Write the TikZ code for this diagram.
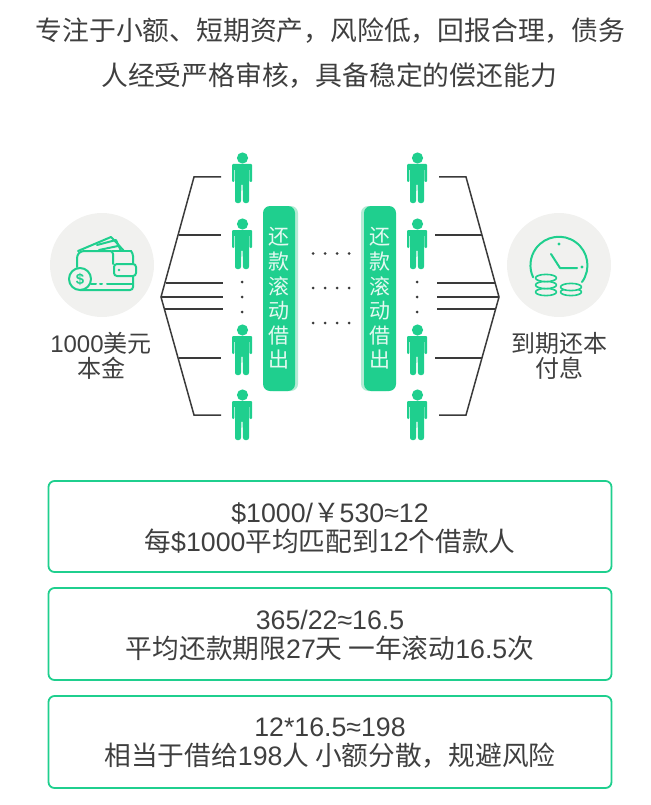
\documentclass[tikz,border=0pt]{standalone}
\usepackage{fontspec}
\setmainfont{Liberation Sans}
\newfontfamily\cjk{Noto Sans CJK SC}
\newcommand{\Z}[1]{{\cjk #1}}
\definecolor{brand}{HTML}{1FCF8E}
\definecolor{brandpale}{HTML}{B5EBD5}
\definecolor{disc}{HTML}{F1F1EF}
\definecolor{ink}{HTML}{3F3F3F}
\definecolor{wire}{HTML}{3A3A3A}
\tikzset{
  wirel/.style={draw=wire,line width=1.5pt},
  icon/.style={draw=brand,line width=2pt,line cap=round,line join=round},
  pill/.style={fill=brand,rounded corners=7pt,minimum width=32pt,minimum height=185pt,inner sep=0pt,outer sep=0pt,
     text=white!88!brand,align=center,font=\cjk\fontsize{21}{24.6}\selectfont},
  pillshade/.style={fill=brandpale,rounded corners=7pt,minimum width=32pt,minimum height=185pt,inner sep=0pt},
  infobox/.style={draw=brand,line width=1.8pt,rounded corners=6pt,minimum width=563pt,inner sep=0pt,outer sep=0pt},
  boxtext/.style={text=ink,align=center,inner sep=0pt,font=\fontsize{26.7}{29}\selectfont},
  headline/.style={text=ink,inner sep=0pt,font=\cjk\fontsize{26.8}{30}\selectfont},
  caption/.style={text=ink,inner sep=0pt,font=\fontsize{24}{25}\selectfont},
  dot/.style={circle,fill=wire,minimum size=3pt,inner sep=0pt},
  disc/.style={circle,fill=disc,minimum size=104pt,inner sep=0pt},
  person/.pic={
    \fill[brand] (0.5,-6) circle (5.6);
    \fill[brand,rounded corners=1pt] (-10,0) -- (10,0) -- (10,18) -- (7.6,18) -- (7.6,5) -- (7,5) -- (7,37.5)
       -- (6,39) -- (2,39) -- (1,37.5) -- (0.6,20) -- (-0.6,20) -- (-1,37.5) -- (-2,39) -- (-6,39) -- (-7,37.5)
       -- (-7,5) -- (-7.6,5) -- (-7.6,18) -- (-10,18) -- cycle;
  },
}
\begin{document}
\begin{tikzpicture}[x=1pt,y=-1pt]
\useasboundingbox (0,0) rectangle (650,805);
% headline
\node[headline] (h1) at (330.5,31) {专注于小额、短期资产，风险低，回报合理，债务};
\node[headline] (h2) at (329,76) {人经受严格审核，具备稳定的偿还能力};
% discs
\node[disc] (dl) at (102,265) {};
\node[disc] (dr) at (559,265) {};
% wallet
\draw[icon] (78,251) -- (111,237) -- (114,240) -- (124,251);
\draw[icon] (97,245) -- (116,240) -- (121,251);
\draw[icon] (99,250) -- (118,246);
\draw[icon,rounded corners=3pt] (113,264) -- (113,251) -- (81,251) -- (77,255) -- (77,267);
\draw[icon,rounded corners=3pt] (131,251) -- (133,253) -- (133,264);
\draw[icon,rounded corners=3pt] (133,276) -- (133,290) -- (80,290);
\draw[icon,rounded corners=3pt] (136,264) rectangle (114,276);
\draw[icon] (112,251) -- (131,251);
\fill[brand] (119,270) circle (1.4);
\draw[icon] (107,284) -- (133,284);
\draw[icon] (91,284) -- (96,284);
\draw[icon] (100,284) -- (102,284);
\draw[icon,fill=disc] (80,279) circle (11);
\node[text=brand,inner sep=0pt,font=\bfseries\fontsize{15}{15}\selectfont] (dollar) at (80,279) {\$};
% clock
\draw[icon] (582,282) arc[start angle=36,end angle=-205,radius=28.5];
\draw[icon] (551,254) -- (560,268) -- (577,268);
\fill[brand] (582,267) circle (1.6);
\fill[brand] (559,244) circle (1.6);
\foreach \yy in {292,285,278}{
  \draw[icon,fill=disc,line width=1.6pt] (546,\yy) ellipse (10.5 and 3.6);
}
\foreach \yy in {292,287}{
  \draw[icon,fill=disc,line width=1.6pt] (571,\yy) ellipse (10.5 and 3.6);
}
% captions
\node[caption] (cl1) at (101,343) {1000\Z{美元}};
\node[caption] (cl2) at (101,368) {\Z{本金}};
\node[caption] (cr1) at (559,343) {\Z{到期还本}};
\node[caption] (cr2) at (559,368) {\Z{付息}};
% people
\foreach \yy in {164,230,336,401}{
  \pic at (242,\yy) {person};
  \pic at (417,\yy) {person};
}
% dots between people
\foreach \yy/\nn in {282/a,297/b,312/c}{
  \node[dot] (pl\nn) at (242,\yy) {};
  \node[dot] (pr\nn) at (417,\yy) {};
}
% rows of dots
\foreach \yy/\rr in {253.5/a,288/b,323/c}{
  \foreach \xx/\cc in {313/a,325/b,337/c,349/d}{
    \node[dot] (m\rr\cc) at (\xx,\yy) {};
  }
}
% pills
\node[pillshade] (ps1) at (282,298.5) {};
\node[pill] (p1) at (279,298.5) {还\\款\\滚\\动\\借\\出};
\node[pillshade] (ps2) at (377,298.5) {};
\node[pill] (p2) at (380,298.5) {还\\款\\滚\\动\\借\\出};
% left tree
\coordinate (la) at (161,297);
\coordinate (lt) at (194,177);
\coordinate (lb) at (194,415);
\coordinate (lte) at (221,177);
\coordinate (lbe) at (221,415);
\coordinate (l2s) at (179,235);
\coordinate (l2e) at (221,235);
\coordinate (l3s) at (166,283);
\coordinate (l3e) at (223,283);
\coordinate (l4e) at (223,297);
\coordinate (l5s) at (165,309);
\coordinate (l5e) at (223,309);
\coordinate (l6s) at (179,358);
\coordinate (l6e) at (221,358);
\draw[wirel] (lte) -- (lt) -- (la) -- (lb) -- (lbe);
\draw[wirel] (l2s) -- (l2e);
\draw[wirel] (l3s) -- (l3e);
\draw[wirel] (la) -- (l4e);
\draw[wirel] (l5s) -- (l5e);
\draw[wirel] (l6s) -- (l6e);
% right tree
\coordinate (ra) at (499,297);
\coordinate (rt) at (466,177);
\coordinate (rb) at (466,415);
\coordinate (rte) at (439,177);
\coordinate (rbe) at (439,415);
\coordinate (r2s) at (435,235);
\coordinate (r2e) at (482,235);
\coordinate (r3s) at (437,283);
\coordinate (r3e) at (495,283);
\coordinate (r4s) at (437,297);
\coordinate (r5s) at (437,309);
\coordinate (r5e) at (496,309);
\coordinate (r6s) at (435,358);
\coordinate (r6e) at (482,358);
\draw[wirel] (rte) -- (rt) -- (ra) -- (rb) -- (rbe);
\draw[wirel] (r2s) -- (r2e);
\draw[wirel] (r3s) -- (r3e);
\draw[wirel] (r4s) -- (ra);
\draw[wirel] (r5s) -- (r5e);
\draw[wirel] (r6s) -- (r6e);
% boxes
\node[infobox,minimum height=91pt] (b1) at (330,526.5) {};
\node[boxtext] (t1) at ([yshift=-1.5pt]b1.center) {\$1000/\Z{￥}530≈12\\\Z{每}\$1000\Z{平均匹配到}12\Z{个借款人}};
\node[infobox,minimum height=92pt] (b2) at (330,634) {};
\node[boxtext] (t2) at ([yshift=-1.5pt]b2.center) {365/22≈16.5\\\Z{平均还款期限}27\Z{天 一年滚动}16.5\Z{次}};
\node[infobox,minimum height=92pt] (b3) at (330,742) {};
\node[boxtext] (t3) at ([yshift=-1.5pt]b3.center) {12*16.5≈198\\\Z{相当于借给}198\Z{人 小额分散，规避风险}};
\end{tikzpicture}
\end{document}
